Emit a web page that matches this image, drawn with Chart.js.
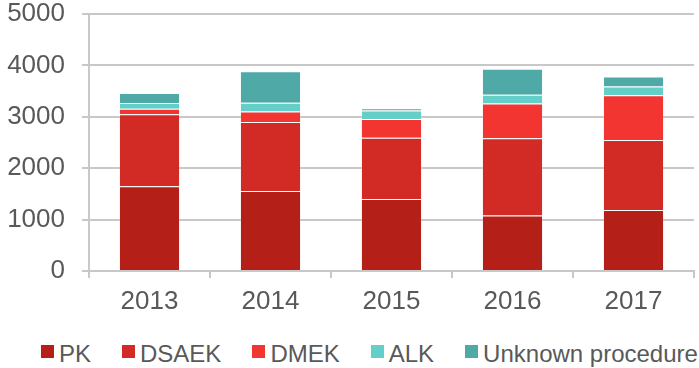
<!DOCTYPE html>
<html>
<head>
<meta charset="utf-8">
<script src="https://cdn.jsdelivr.net/npm/chart.js@4/dist/chart.umd.min.js"></script>
<style>
  html, body { margin: 0; padding: 0; background: #fff; }
  #wrap { position: relative; width: 699px; height: 368px; overflow: hidden; }
  #myChart { position: absolute; left: 0; top: 0; }
  #legend {
    position: absolute; left: 41px; top: 340px;
    display: flex; gap: 31px; white-space: nowrap;
    font-family: 'Liberation Sans', Arial, sans-serif; font-size: 24px;
    color: #595959; line-height: 28px;
  }
  #legend .item { display: flex; align-items: center; }
  #legend .box { width: 13px; height: 13px; margin-right: 5px; margin-top: -5px; }
</style>
</head>
<body>
<div id="wrap">
  <canvas id="myChart" width="699" height="330"></canvas>
  <div id="legend"></div>
</div>
<script>
const years = ['2013', '2014', '2015', '2016', '2017'];

const pk      = [1650, 1555, 1400, 1080, 1185];
const dsaek   = [1400, 1345, 1190, 1505, 1365];
const dmek    = [105, 205, 365, 675, 870];
const alk     = [115, 170, 170, 170, 170];
const unknown = [195, 610, 40, 505, 195];

const yTicks = [0, 1000, 2000, 3000, 4000, 5000];

const axisColor = '#c8c8c8';
const textColor = '#595959';
const fontFamily = "'Liberation Sans', Arial, sans-serif";

function series(label, data, color) {
    return {
        label: label,
        data: data,
        backgroundColor: color,
        borderColor: 'rgba(255,255,255,0.2)',
        borderWidth: 1,
        barPercentage: 1,
        categoryPercentage: 0.505,
    };
}

const datasets = [
    series('PK', pk, '#b41f18'),
    series('DSAEK', dsaek, '#d22a25'),
    series('DMEK', dmek, '#f23530'),
    series('ALK', alk, '#63cfc8'),
    series('Unknown procedure', unknown, '#4fa9a7'),
];

const ctx = document.getElementById('myChart').getContext('2d');

new Chart(ctx, {
    type: 'bar',
    data: { labels: years, datasets: datasets },
    options: {
        responsive: false,
        animation: false,
        layout: { padding: { top: 0, right: 5, left: 7, bottom: 0 } },
        plugins: {
            legend: { display: false },
            tooltip: { enabled: false },
        },
        scales: {
            x: {
                stacked: true,
                afterFit: s => { s.height = 59; },
                border: { color: axisColor, width: 2 },
                grid: {
                    offset: true,
                    drawOnChartArea: false,
                    color: axisColor,
                    lineWidth: 2,
                    tickLength: 7,
                },
                ticks: {
                    color: textColor,
                    font: { family: fontFamily, size: 26, lineHeight: 1.2 },
                    padding: 8,
                },
            },
            y: {
                stacked: true,
                min: 0,
                max: 5000,
                afterBuildTicks: axis => { axis.ticks = yTicks.map(v => ({ value: v })); },
                // keep the axis line at a fixed spot and the top tick near the edge
                afterFit: s => { s.width = 82; s.paddingTop = 14; s.paddingBottom = 0; },
                border: { color: axisColor, width: 2 },
                grid: {
                    color: axisColor,
                    lineWidth: 2,
                    tickLength: 7,
                },
                ticks: {
                    color: textColor,
                    font: { family: fontFamily, size: 26, lineHeight: 1.1 },
                    padding: 17,
                    callback: value => String(value),
                },
            },
        },
    },
});

// legend below the chart, one entry per dataset
const legend = document.getElementById('legend');
datasets.forEach(ds => {
    const item = document.createElement('div');
    item.className = 'item';
    const box = document.createElement('span');
    box.className = 'box';
    box.style.background = ds.backgroundColor;
    const text = document.createElement('span');
    text.textContent = ds.label;
    item.appendChild(box);
    item.appendChild(text);
    legend.appendChild(item);
});
</script>
</body>
</html>
